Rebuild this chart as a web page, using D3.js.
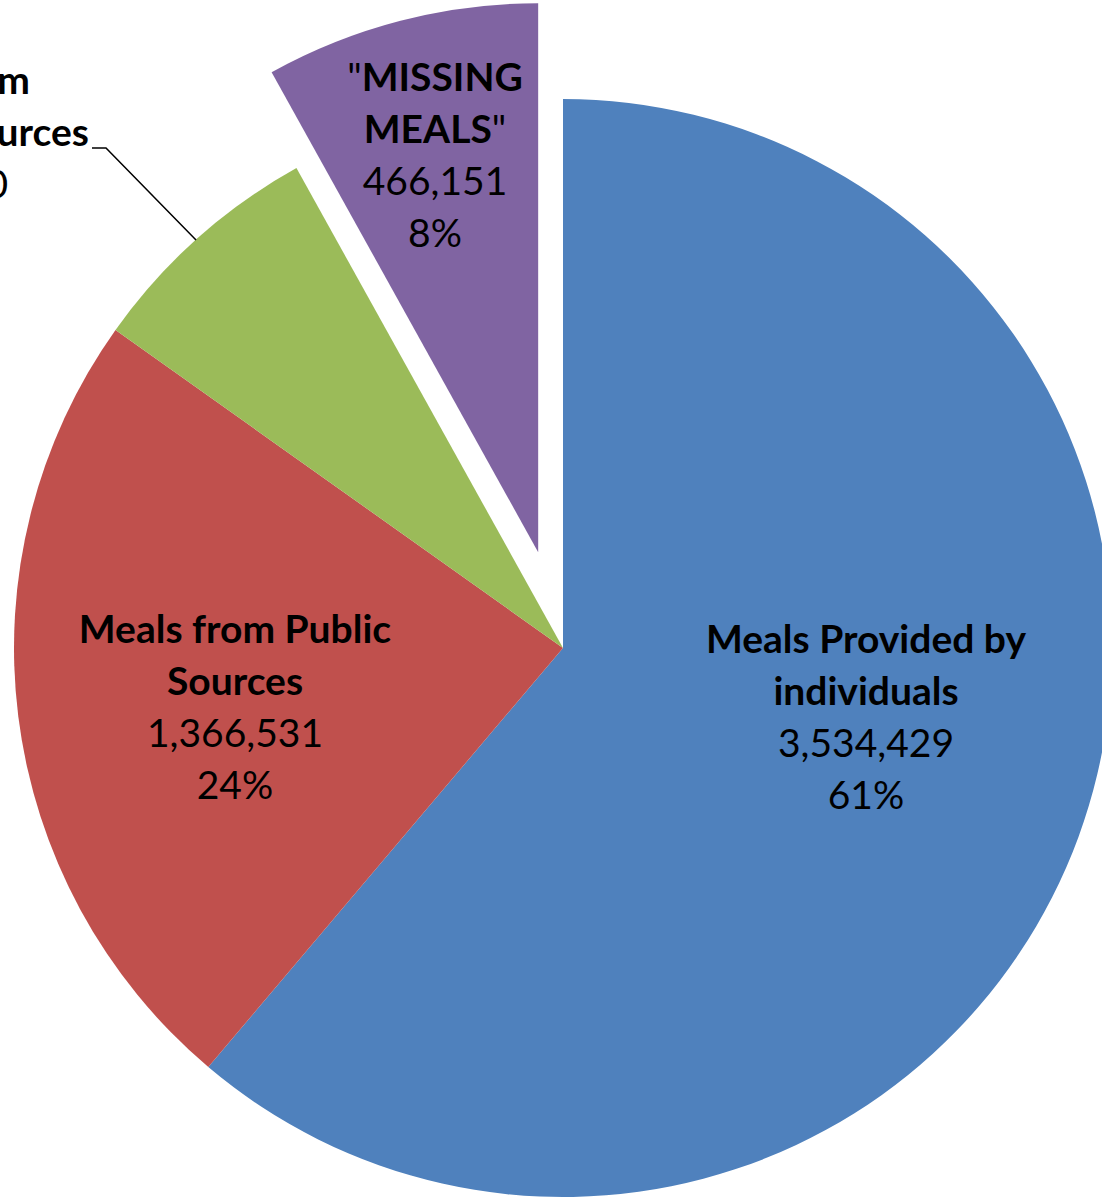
<!DOCTYPE html>
<html><head><meta charset="utf-8">
<script src="https://cdn.jsdelivr.net/npm/d3@7"></script>
<style>html,body{margin:0;padding:0;background:#fff;overflow:hidden}</style>
</head><body>
<svg id="c" width="1102" height="1198"></svg>
<script>
const categories = ["Meals Provided by individuals", "Meals from Public Sources", "Meals from Other Sources", "\"MISSING MEALS\""];
const values = [3534429, 1366531, 410000, 466151];
const valueLabels = ["3,534,429", "1,366,531", "410,000", "466,151"];
const pctLabels = ["61%", "24%", "7%", "8%"];
const nameLines = [["Meals Provided by", "individuals"], ["Meals from Public", "Sources"], ["Meals from", "Other Sources"], ["\"MISSING", "MEALS\""]];
const colors = ["#4F81BD", "#C0504D", "#9BBB59", "#8064A2"];

const cx = 563, cy = 648, R = 549;
const svg = d3.select("#c");
const g = svg.append("g").attr("transform", `translate(${cx},${cy})`);
const pie = d3.pie().sort(null).value(d => d)(values);
const arc = d3.arc().innerRadius(0).outerRadius(R);
const explode = [0, 0, 0, 99];

pie.forEach((d, i) => {
  const mid = (d.startAngle + d.endAngle) / 2;
  const ox = Math.sin(mid) * explode[i], oy = -Math.cos(mid) * explode[i];
  g.append("path").attr("d", arc(d)).attr("fill", colors[i])
    .attr("transform", `translate(${ox},${oy})`);
});

// label centres relative to pie centre (Excel-like placement)
const labelPos = [[303, 70], [-328, 60], [null, null], [-128, -492]];
const lineH = 52;
const font = "Lato, 'Open Sans', sans-serif";
const fs = 39;

function drawLabel(i, x, y, anchor) {
  const lines = [...nameLines[i].map(t => ({t, b: true})), {t: valueLabels[i], b: false}, {t: pctLabels[i], b: false}];
  const t = g.append("text").attr("font-family", font).attr("font-size", fs)
    .attr("text-anchor", anchor).attr("fill", "#000");
  lines.forEach((l, k) => {
    const ts = t.append("tspan").attr("x", x).attr("y", y + (k - 1.5) * lineH + 13);
    if (i === 3 && l.b) {
      const parts = l.t.split(/(")/).filter(s => s.length);
      parts.forEach(p => ts.append("tspan").attr("font-weight", p === '"' ? "normal" : "bold").text(p));
    } else {
      ts.attr("font-weight", l.b ? "bold" : "normal").text(l.t);
    }
  });
}
drawLabel(0, labelPos[0][0], labelPos[0][1], "middle");
drawLabel(1, labelPos[1][0], labelPos[1][1], "middle");
drawLabel(3, labelPos[3][0], labelPos[3][1], "middle");

// green label, partly outside the left edge as in the reference
const gl = g.append("text").attr("font-family", font).attr("font-size", fs).attr("fill", "#000").attr("text-anchor", "end");
const gEnds = [30, 89, 8, -20];
[{t: nameLines[2][0], b: true}, {t: nameLines[2][1], b: true}, {t: valueLabels[2], b: false}, {t: pctLabels[2], b: false}]
  .forEach((l, k) => gl.append("tspan").attr("x", gEnds[k] - cx).attr("y", 94 + k * lineH - cy)
    .attr("font-weight", l.b ? "bold" : "normal").text(l.t));

// leader line for green slice
const leader = d3.line()([[92 - cx, 148 - cy], [106 - cx, 148 - cy], [196 - cx, 240 - cy]]);
g.append("path").attr("d", leader).attr("fill", "none").attr("stroke", "#000").attr("stroke-width", 1.5);
</script>
</body></html>
